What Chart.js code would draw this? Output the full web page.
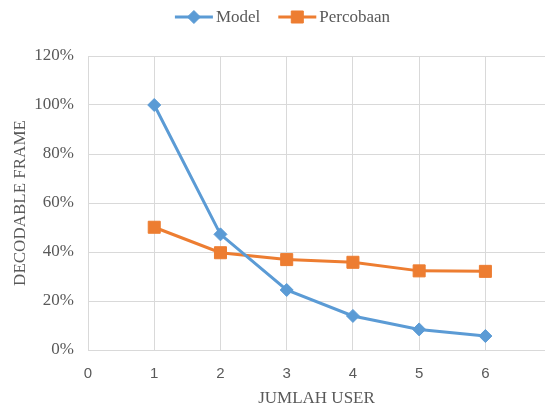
<!DOCTYPE html>
<html lang="id">
<head>
    <meta charset="UTF-8">
    <title>Decodable Frame vs Jumlah User</title>
    <style>
        html, body {
            margin: 0;
            padding: 0;
            background: #ffffff;
        }
        #wrap {
            width: 545px;
            height: 405px;
        }
    </style>
</head>
<body>
    <div id="wrap"><canvas id="chart" width="545" height="405"></canvas></div>

    <script src="https://cdn.jsdelivr.net/npm/chart.js"></script>
    <script>
        // data
        const users = [1, 2, 3, 4, 5, 6];
        const modelValues = [100, 47.2, 24.5, 13.9, 8.4, 5.7];
        const percobaanValues = [50.1, 39.7, 36.9, 35.8, 32.3, 32.1];
        const yTicks = [0, 20, 40, 60, 80, 100, 120];
        const xTicks = [0, 1, 2, 3, 4, 5, 6];

        const SERIF = '"Liberation Serif", "DejaVu Serif", serif';
        const SANS = '"Liberation Sans", Arial, sans-serif';
        const TEXT = '#595959';
        const GRID = '#d9d9d9';

        const toPoints = vals => users.map((u, i) => ({ x: u, y: vals[i] }));

        // legend drawn as line + marker, like the spreadsheet legend
        const lineLegend = {
            id: 'lineLegend',
            afterDraw(chart) {
                const ctx = chart.ctx;
                const lineLen = 38, gap = 3, itemGap = 18;
                ctx.save();
                ctx.font = '17px ' + SERIF;
                const items = chart.data.datasets.map(ds => ({
                    ds: ds,
                    w: lineLen + gap + ctx.measureText(ds.label).width
                }));
                const total = items.reduce((s, it) => s + it.w, 0) + itemGap * (items.length - 1);
                let x = chart.width / 2 + 10 - total / 2;
                const y = 17;
                items.forEach(it => {
                    const ds = it.ds;
                    ctx.strokeStyle = ds.borderColor;
                    ctx.lineWidth = 3;
                    ctx.beginPath();
                    ctx.moveTo(x, y);
                    ctx.lineTo(x + lineLen, y);
                    ctx.stroke();
                    ctx.fillStyle = ds.pointBackgroundColor;
                    ctx.strokeStyle = ds.pointBorderColor;
                    ctx.lineWidth = 1;
                    Chart.helpers.drawPoint(ctx, {
                        pointStyle: ds.pointStyle,
                        radius: ds.pointRadius,
                        rotation: 0,
                        borderWidth: 1
                    }, x + lineLen / 2, y);
                    ctx.fillStyle = TEXT;
                    ctx.textBaseline = 'middle';
                    ctx.textAlign = 'left';
                    ctx.fillText(ds.label, x + lineLen + gap, y + 1);
                    x += it.w + itemGap;
                });
                ctx.restore();
            }
        };

        const chart = new Chart(document.getElementById('chart'), {
            type: 'line',
            data: {
                datasets: [
                    {
                        label: 'Model',
                        data: toPoints(modelValues),
                        borderColor: '#5b9bd5',
                        backgroundColor: '#5b9bd5',
                        borderWidth: 3,
                        pointStyle: 'rectRot',
                        pointRadius: 6.5,
                        pointBackgroundColor: '#5b9bd5',
                        pointBorderColor: '#5b9bd5',
                        pointBorderWidth: 1,
                        tension: 0
                    },
                    {
                        label: 'Percobaan',
                        data: toPoints(percobaanValues),
                        borderColor: '#ed7d31',
                        backgroundColor: '#ed7d31',
                        borderWidth: 3,
                        pointStyle: 'rect',
                        pointRadius: 8.5,
                        pointBackgroundColor: '#ed7d31',
                        pointBorderColor: '#ed7d31',
                        pointBorderWidth: 1,
                        tension: 0
                    }
                ]
            },
            options: {
                responsive: false,
                animation: false,
                layout: {
                    autoPadding: false,
                    padding: { top: 56, left: 2, right: 0, bottom: 0 }
                },
                plugins: {
                    legend: { display: false },
                    tooltip: { enabled: false }
                },
                scales: {
                    x: {
                        type: 'linear',
                        min: 0,
                        max: 6.9,
                        afterBuildTicks: scale => {
                            scale.ticks = xTicks.map(v => ({ value: v }));
                        },
                        afterFit: scale => {
                            scale.height = 55;
                            scale.paddingRight = 0;
                            scale.paddingLeft = 0;
                        },
                        grid: { color: GRID, lineWidth: 1, drawTicks: false },
                        border: { display: true, color: GRID, width: 1 },
                        ticks: {
                            color: TEXT,
                            font: { family: SANS, size: 15 },
                            padding: 15,
                            maxRotation: 0
                        },
                        title: {
                            display: true,
                            text: 'JUMLAH USER',
                            color: TEXT,
                            font: { family: SERIF, size: 17, lineHeight: 0.8 },
                            padding: { top: 0, bottom: 0 }
                        }
                    },
                    y: {
                        min: 0,
                        max: 120,
                        afterBuildTicks: scale => {
                            scale.ticks = yTicks.map(v => ({ value: v }));
                        },
                        afterFit: scale => {
                            scale.width = 86;
                        },
                        grid: { color: GRID, lineWidth: 1, drawTicks: false },
                        border: { display: true, color: GRID, width: 1 },
                        ticks: {
                            color: TEXT,
                            font: { family: SERIF, size: 17 },
                            padding: 14,
                            callback: v => v + '%'
                        },
                        title: {
                            display: true,
                            text: 'DECODABLE FRAME',
                            color: TEXT,
                            font: { family: SERIF, size: 17, lineHeight: 1.2 },
                            padding: { top: 8, bottom: 0 }
                        }
                    }
                }
            },
            plugins: [lineLegend]
        });
    </script>
</body>
</html>
